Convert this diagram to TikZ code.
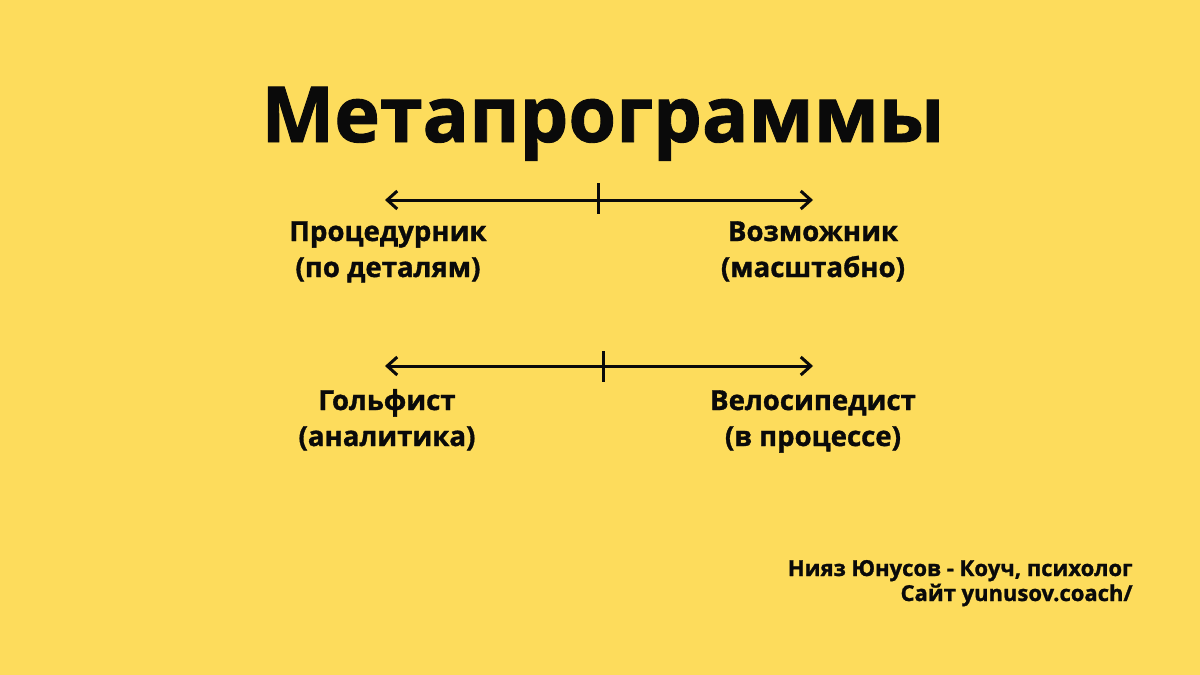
\documentclass[tikz,border=0pt]{standalone}
\usepackage{fontspec}
\setmainfont{Open Sans}[BoldFeatures={FakeBold=1.2}]
\usetikzlibrary{arrows.meta}
\definecolor{gelb}{HTML}{FDDC5C}
\definecolor{schwarz}{HTML}{0A0A0A}
\tikzset{
  pfeil/.style={{Straight Barb[length=5pt,width=9pt]}-{Straight Barb[length=5pt,width=9pt]},schwarz,line width=1.5pt},
  strich/.style={schwarz,line width=1.5pt},
  titel/.style={schwarz,font=\fontsize{38.6}{46}\selectfont\bfseries,inner sep=0pt},
  etikett/.style={schwarz,align=center,font=\fontsize{13.8}{18}\selectfont\bfseries,inner sep=0pt,anchor=base},
  fuss/.style={schwarz,align=right,anchor=base east,font=\fontsize{11}{12.5}\selectfont\bfseries,inner sep=0pt},
}
\begin{document}
\begin{tikzpicture}[x=0.5pt,y=-0.5pt]
  \fill[gelb] (0,0) rectangle (1200,675);
  \useasboundingbox (0,0) rectangle (1200,675);
  \node[titel,anchor=base] (titel) at (603,142) {Метапрограммы};
  % erste Skala
  \coordinate (l1) at (385,200);
  \coordinate (r1) at (813,200);
  \coordinate (m1o) at (598,183);
  \coordinate (m1u) at (598,214);
  \draw[pfeil] (l1) -- (r1);
  \draw[strich] (m1o) -- (m1u);
  \node[etikett] (proz) at (388,277) {Процедурник\\(по деталям)};
  \node[etikett] (mogl) at (813,277) {Возможник\\(масштабно)};
  % zweite Skala
  \coordinate (l2) at (385,366);
  \coordinate (r2) at (813,366);
  \coordinate (m2o) at (603,351);
  \coordinate (m2u) at (603,382);
  \draw[pfeil] (l2) -- (r2);
  \draw[strich] (m2o) -- (m2u);
  \node[etikett] (golf) at (387,446) {Гольфист\\(аналитика)};
  \node[etikett] (velo) at (813,446) {Велосипедист\\(в процессе)};
  \node[fuss] (autor) at (1133,601) {Нияз Юнусов - Коуч, психолог\\Сайт yunusov.coach/};
\end{tikzpicture}
\end{document}
